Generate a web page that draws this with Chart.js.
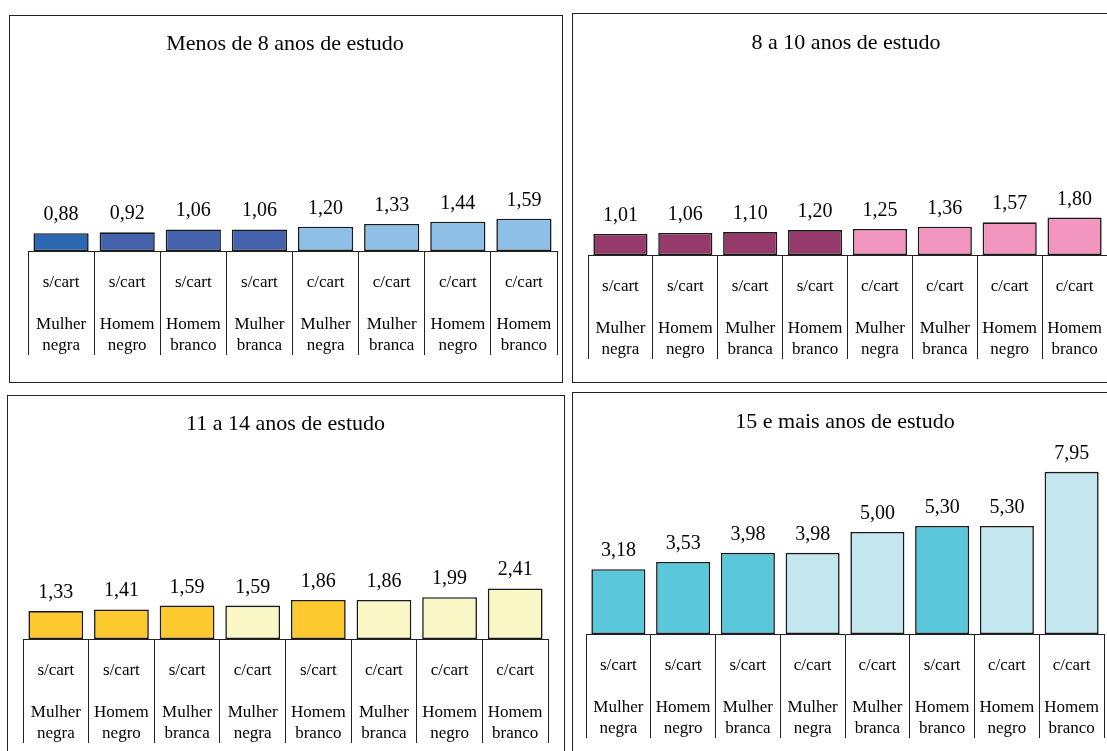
<!DOCTYPE html>
<html>
<head>
<meta charset="utf-8">
<script src="https://cdn.jsdelivr.net/npm/chart.js@4"></script>
<style>
  html, body { margin: 0; padding: 0; background: #fff; }
  body { width: 1107px; height: 751px; overflow: hidden; position: relative; }
  .panel { position: absolute; }
  .frame { position: absolute; box-sizing: border-box; border: 1px solid #222; pointer-events: none; }
</style>
</head>
<body>

<script>
// Data
const titleA = 'Menos de 8 anos de estudo';
const cartA = ['s/cart', 's/cart', 's/cart', 's/cart', 'c/cart', 'c/cart', 'c/cart', 'c/cart'];
const sexA = ['Mulher', 'Homem', 'Homem', 'Mulher', 'Mulher', 'Mulher', 'Homem', 'Homem'];
const raceA = ['negra', 'negro', 'branco', 'branca', 'negra', 'branca', 'negro', 'branco'];
const valuesA = [0.88, 0.92, 1.06, 1.06, 1.20, 1.33, 1.44, 1.59];

const titleB = '8 a 10 anos de estudo';
const cartB = ['s/cart', 's/cart', 's/cart', 's/cart', 'c/cart', 'c/cart', 'c/cart', 'c/cart'];
const sexB = ['Mulher', 'Homem', 'Mulher', 'Homem', 'Mulher', 'Mulher', 'Homem', 'Homem'];
const raceB = ['negra', 'negro', 'branca', 'branco', 'negra', 'branca', 'negro', 'branco'];
const valuesB = [1.01, 1.06, 1.10, 1.20, 1.25, 1.36, 1.57, 1.80];

const titleC = '11 a 14 anos de estudo';
const cartC = ['s/cart', 's/cart', 's/cart', 'c/cart', 's/cart', 'c/cart', 'c/cart', 'c/cart'];
const sexC = ['Mulher', 'Homem', 'Mulher', 'Mulher', 'Homem', 'Mulher', 'Homem', 'Homem'];
const raceC = ['negra', 'negro', 'branca', 'negra', 'branco', 'branca', 'negro', 'branco'];
const valuesC = [1.33, 1.41, 1.59, 1.59, 1.86, 1.86, 1.99, 2.41];

const titleD = '15 e mais anos de estudo';
const cartD = ['s/cart', 's/cart', 's/cart', 'c/cart', 'c/cart', 's/cart', 'c/cart', 'c/cart'];
const sexD = ['Mulher', 'Homem', 'Mulher', 'Mulher', 'Mulher', 'Homem', 'Homem', 'Homem'];
const raceD = ['negra', 'negro', 'branca', 'negra', 'branca', 'branco', 'negro', 'branco'];
const valuesD = [3.18, 3.53, 3.98, 3.98, 5.00, 5.30, 5.30, 7.95];

// Layout and styles (kept apart from the data)
const SERIF = "'Liberation Serif', 'Times New Roman', serif";
const TICK_LEN = 104;
const LABEL_LINE = 21;

const panels = [
  { title: titleA, cart: cartA, sex: sexA, race: raceA, values: valuesA,
    dark: '#4563AD', light: '#8DBFE7', firstColor: '#2B68B3',
    left: 9, top: 15, width: 554, height: 368,
    areaLeft: 19, areaRight: 548, axisY: 236, titleY: 29, titleX: 276, pxPerUnit: 20.3 },
  { title: titleB, cart: cartB, sex: sexB, race: raceB, values: valuesB,
    dark: '#963A6C', light: '#F396BF',
    left: 572, top: 13, width: 545, height: 370,
    areaLeft: 16, areaRight: 535, axisY: 242, titleY: 30, titleX: 274, pxPerUnit: 20.8 },
  { title: titleC, cart: cartC, sex: sexC, race: raceC, values: valuesC,
    dark: '#FDC92E', light: '#FAF7C6',
    left: 7, top: 395, width: 558, height: 370,
    areaLeft: 16, areaRight: 541, axisY: 244, titleY: 29, titleX: 280, pxPerUnit: 21 },
  { title: titleD, cart: cartD, sex: sexD, race: raceD, values: valuesD,
    dark: '#5BC7DA', light: '#C3E6EF',
    left: 572, top: 392, width: 545, height: 370,
    areaLeft: 14, areaRight: 532, axisY: 242, titleY: 30, titleX: 273, pxPerUnit: 20.4 }
];

// value labels above the bars
const valueLabels = {
  id: 'valueLabels',
  afterDatasetsDraw(chart) {
    const ctx = chart.ctx;
    const meta = chart.getDatasetMeta(0);
    const data = chart.data.datasets[0].data;
    ctx.save();
    ctx.font = '20px ' + SERIF;
    ctx.fillStyle = '#000';
    ctx.textAlign = 'center';
    ctx.textBaseline = 'alphabetic';
    meta.data.forEach((bar, i) => {
      ctx.fillText(data[i].toFixed(2).replace('.', ','), bar.x, bar.y - 13);
    });
    ctx.restore();
  }
};

panels.forEach(function (p) {
  const holder = document.createElement('div');
  holder.className = 'panel';
  holder.style.left = p.left + 'px';
  holder.style.top = p.top + 'px';
  holder.style.width = p.width + 'px';
  holder.style.height = p.height + 'px';
  const canvas = document.createElement('canvas');
  holder.appendChild(canvas);
  document.body.appendChild(holder);

  const frame = document.createElement('div');
  frame.className = 'frame';
  frame.style.left = p.left + 'px';
  frame.style.top = p.top + 'px';
  frame.style.width = p.width + 'px';
  frame.style.height = p.height + 'px';
  document.body.appendChild(frame);

  const labels = p.cart.map((c, i) => [c, '', p.sex[i], p.race[i]]);
  const colors = p.cart.map((c) => c === 's/cart' ? p.dark : p.light);
  if (p.firstColor) colors[0] = p.firstColor;

  // the title is centred on the panel, the plot area is not
  const padRight = p.width - p.areaRight;
  const padLeft = Math.max(0, Math.min(p.areaLeft, 2 * p.titleX - p.width + padRight));
  const yWidth = p.areaLeft - padLeft;

  const titleLine = 22 * 1.2;
  const titlePadTop = p.titleY - titleLine / 2;
  const areaTop = p.titleY + titleLine / 2 + 10;
  const yMax = (p.axisY - areaTop) / p.pxPerUnit;

  new Chart(canvas.getContext('2d'), {
    type: 'bar',
    data: {
      labels: labels,
      datasets: [{
        data: p.values,
        backgroundColor: colors,
        borderColor: '#1a1a1a',
        borderWidth: 1.6,
        borderSkipped: false,
        categoryPercentage: 1,
        barPercentage: 0.835
      }]
    },
    options: {
      responsive: true,
      maintainAspectRatio: false,
      animation: false,
      devicePixelRatio: 1,
      layout: {
        padding: {
          left: padLeft,
          right: padRight,
          top: 0,
          bottom: p.height - p.axisY - TICK_LEN
        }
      },
      plugins: {
        legend: { display: false },
        tooltip: { enabled: false },
        title: {
          display: true,
          text: p.title,
          color: '#000',
          font: { family: SERIF, size: 22, weight: 'normal', lineHeight: 1.2 },
          padding: { top: titlePadTop, bottom: 10 }
        }
      },
      scales: {
        x: {
          offset: true,
          grid: {
            offset: true,
            drawOnChartArea: false,
            drawTicks: true,
            tickLength: TICK_LEN,
            color: '#222',
            lineWidth: 1
          },
          border: { display: true, color: '#222', width: 1 },
          ticks: {
            autoSkip: false,
            maxRotation: 0,
            minRotation: 0,
            padding: 32 - LABEL_LINE / 2 - TICK_LEN,
            color: '#000',
            font: { family: SERIF, size: 17, lineHeight: LABEL_LINE / 17 }
          },
          afterFit: function (scale) { scale.height = TICK_LEN; }
        },
        y: {
          display: true,
          min: 0,
          max: yMax,
          grid: { display: false },
          border: { display: false },
          ticks: { display: false },
          afterFit: function (scale) { scale.width = yWidth; }
        }
      }
    },
    plugins: [valueLabels]
  });
});
</script>
</body>
</html>
